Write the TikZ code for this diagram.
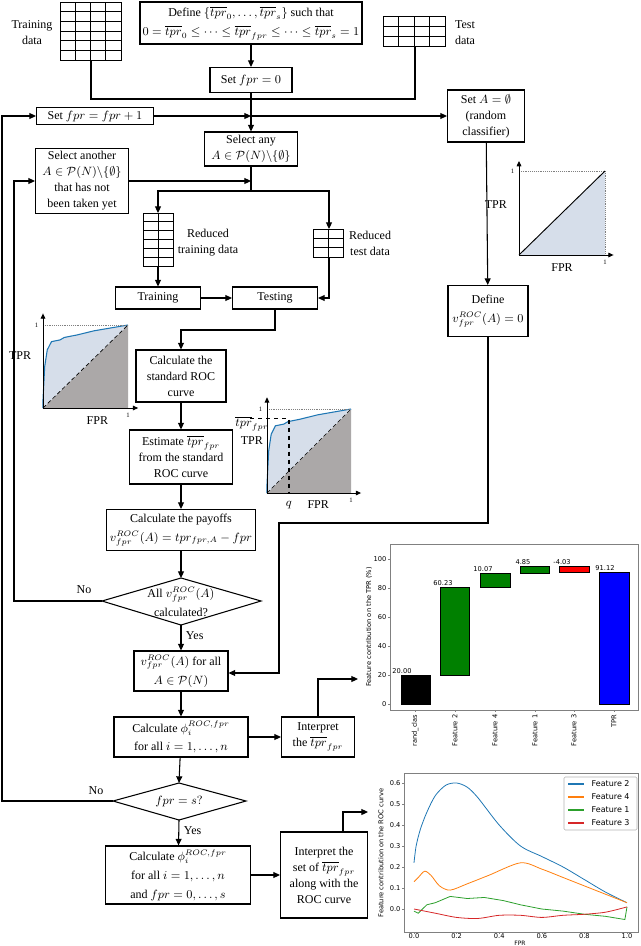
\documentclass[tikz,border=0pt]{standalone}
\usepackage{fontspec}
\setmainfont{Liberation Serif}
\newfontfamily\chartfont{DejaVu Sans}
\usepackage{amsmath,amssymb}
\usetikzlibrary{arrows.meta}
\definecolor{rocblue}{HTML}{D6DEEA}
\definecolor{rocgray}{HTML}{ABA8A8}
\definecolor{cblue}{HTML}{1F77B4}
\definecolor{corange}{HTML}{FF7F0E}
\definecolor{cgreen}{HTML}{2CA02C}
\definecolor{cred}{HTML}{D62728}
\begin{document}
\begin{tikzpicture}[x=0.75pt,y=-0.75pt,
  every node/.style={font=\fontsize{9}{12}\selectfont},
  box/.style={draw,line width=0.8pt,align=center,inner sep=1pt},
  tall/.style={font=\fontsize{9}{14}\selectfont},
  con/.style={line width=0.8pt},
  arr/.style={line width=0.8pt,-{Triangle[length=5pt,width=4.5pt]}},
  ax/.style={line width=0.7pt,-{Triangle[length=4pt,width=3.5pt]}},
  tiny/.style={font=\fontsize{5}{6}\selectfont\chartfont},
  grd/.style={line width=0.7pt}]
\useasboundingbox (0,0) rectangle (640,946);

% ---------- data grids ----------
\draw[grd] (60,2) rectangle (121,60);
\foreach \i in {1,2,3} \draw[grd] (60+15.25*\i,2) -- (60+15.25*\i,60);
\foreach \i in {1,...,5} \draw[grd] (60,2+9.667*\i) -- (121,2+9.667*\i);
\node[align=center] (trl) at (32,33) {Training\\data};
\coordinate (trd) at (91,60);

\draw[grd] (383,16) rectangle (445,46);
\foreach \i in {1,2,3} \draw[grd] (383+15.5*\i,16) -- (383+15.5*\i,46);
\foreach \i in {1,2} \draw[grd] (383,16+10*\i) -- (445,16+10*\i);
\node[align=center] (tel) at (465,33) {Test\\data};
\coordinate (ted) at (415,46);

\draw[grd] (143,213) rectangle (173,266);
\draw[grd] (158,213) -- (158,266);
\foreach \i in {1,...,5} \draw[grd] (143,213+8.83*\i) -- (173,213+8.83*\i);
\node[align=center] (rtrl) at (208,243) {Reduced\\training data};
\coordinate (rtrt) at (158,213);
\coordinate (rtrb) at (158,266);

\draw[grd] (313,229) rectangle (343,257);
\draw[grd] (328,229) -- (328,257);
\foreach \i in {1,2} \draw[grd] (313,229+9.33*\i) -- (343,229+9.33*\i);
\node[align=center] (rtel) at (370,243) {Reduced\\test data};
\coordinate (rtet) at (329,229);
\coordinate (rteb) at (329,257);

% ---------- boxes ----------
\node[box,tall,minimum width=166.5pt,minimum height=31.5pt] (def) at (251,23)
 {Define $\{\overline{tpr}_0,\dots,\overline{tpr}_s\}$ such that\\
  $0=\overline{tpr}_0\le\cdots\le\overline{tpr}_{fpr}\le\cdots\le\overline{tpr}_s=1$};
\node[box,minimum width=61.5pt,minimum height=18.75pt] (set0) at (251,80) {Set $fpr=0$};
\node[box,minimum width=87.75pt,minimum height=12.75pt] (setp) at (95,116) {Set $fpr=fpr+1$};
\node[box,minimum width=57.75pt,minimum height=39pt] (setA) at (486,116) {Set $A=\emptyset$\\(random\\classifier)};
\node[box,minimum width=69.75pt,minimum height=25.5pt] (sel) at (251,149) {Select any\\$A\in\mathcal{P}(N)\backslash\{\emptyset\}$};
\node[box,minimum width=69.75pt,minimum height=48.75pt] (selo) at (82,181) {Select another\\$A\in\mathcal{P}(N)\backslash\{\emptyset\}$\\that has not\\been taken yet};
\node[box,minimum width=63.75pt,minimum height=16.5pt] (train) at (158,298) {Training};
\node[box,minimum width=63.75pt,minimum height=16.5pt] (test) at (275,298) {Testing};
\node[box,minimum width=67.5pt,minimum height=39pt] (roc) at (181,376) {Calculate the\\standard ROC\\curve};
\node[box,minimum width=77.25pt,minimum height=40.5pt] (est) at (181,457) {Estimate $\overline{tpr}_{fpr}$\\from the standard\\ROC curve};
\node[box,tall,minimum width=111.75pt,minimum height=30.75pt] (pay) at (181,530) {Calculate the payoffs\\$v^{ROC}_{fpr}(A)=tpr_{fpr,A}-fpr$};
\node[box,tall,minimum width=60pt,minimum height=38.25pt] (defv) at (488,311) {Define\\$v^{ROC}_{fpr}(A)=0$};
\node[box,tall,minimum width=70.5pt,minimum height=30pt] (vall) at (181,671) {$v^{ROC}_{fpr}(A)$ for all\\$A\in\mathcal{P}(N)$};
\node[box,tall,minimum width=100.5pt,minimum height=30pt] (phi) at (181,737) {Calculate $\phi_i^{ROC,fpr}$\\for all $i=1,\dots,n$};
\node[box,minimum width=54.75pt,minimum height=30pt] (interp) at (318,737) {Interpret\\the $\overline{tpr}_{fpr}$};
\node[box,tall,minimum width=108.75pt,minimum height=43.5pt] (phif) at (178,875) {Calculate $\phi_i^{ROC,fpr}$\\for all $i=1,\dots,n$\\and $fpr=0,\dots,s$};
\node[box,minimum width=65.25pt,minimum height=64.5pt] (interps) at (324,875) {Interpret the\\set of $\overline{tpr}_{fpr}$\\along with the\\ROC curve};

% diamonds
\draw[con] (102,601) -- (181,578) -- (261,601) -- (181,625) -- cycle;
\node[align=center,tall] (d1) at (181,602) {All $v^{ROC}_{fpr}(A)$\\calculated?};
\coordinate (d1t) at (181,578); \coordinate (d1b) at (181,625); \coordinate (d1w) at (102,601);
\draw[con] (113,801) -- (179,783) -- (246,801) -- (179,820) -- cycle;
\node (d2) at (179,801) {$fpr=s?$};
\coordinate (d2t) at (179,783); \coordinate (d2b) at (179,820); \coordinate (d2w) at (113,801);

% ---------- connectors ----------
\coordinate (j99a) at (91,99); \coordinate (j99b) at (415,99);
\draw[con] (trd) -- (j99a) -- (j99b) -- (ted);
\draw[arr] (def) -- (set0);
\draw[arr] (set0) -- (sel);
\coordinate (jA) at (251,116);
\draw[arr] (setp) -- (jA);
\draw[arr] (jA) -- (setA);
\coordinate (jB) at (251,181);
\draw[arr] (selo) -- (jB);
\coordinate (s1) at (251,191); \coordinate (s2) at (158,191); \coordinate (s3) at (329,191);
\draw[con] (sel) -- (s1);
\draw[arr] (s1) -- (s2) -- (rtrt);
\draw[arr] (s1) -- (s3) -- (rtet);
\draw[arr] (rtrb) -- (train);
\coordinate (t1) at (329,298);
\draw[arr] (rteb) -- (t1) -- (test);
\draw[arr] (train) -- (test);
\coordinate (u1) at (275,330); \coordinate (u2) at (181,330);
\draw[arr] (test) -- (u1) -- (u2) -- (roc);
\draw[arr] (roc) -- (est);
\draw[arr] (est) -- (pay);
\draw[arr] (pay) -- (d1t);
\draw[arr] (d1b) -- node[right,pos=0.4]{Yes} (vall);
\coordinate (n1) at (14,601); \coordinate (n2) at (14,181);
\draw[arr] (d1w) -- (n1) -- (n2) -- (selo);
\node (no1) at (84,590) {No};
\draw[arr] (setA) -- (defv);
\coordinate (v1) at (488,523); \coordinate (v2) at (279,523); \coordinate (v3) at (279,673);
\draw[arr] (defv) -- (v1) -- (v2) -- (v3) -- (vall.east|-v3);
\draw[arr] (vall) -- (phi);
\draw[arr] (phi) -- (interp);
\coordinate (i1) at (318,679); \coordinate (i2) at (358,679);
\draw[arr] (interp) -- (i1) -- (i2);
\draw[arr] (phi) -- (d2t);
\draw[arr] (d2b) -- node[right,pos=0.4]{Yes} (phif);
\coordinate (m1) at (2,801); \coordinate (m2) at (2,116);
\draw[arr] (d2w) -- (m1) -- (m2) -- (setp);
\node (no2) at (96,791) {No};
\draw[arr] (phif) -- (interps);
\coordinate (k1) at (343,832); \coordinate (k2) at (343,812); \coordinate (k3) at (368,812);
\draw[arr] (k1) -- (k2) -- (k3);

% ---------- ROC plot 1 ----------
\begin{scope}[shift={(43,408)},x=63.75pt,y=62.25pt]
 \fill[rocgray] (0,0) -- (1,0) -- (1,1) -- cycle;
 \fill[rocblue] (0,0) -- (0,0.1) -- (0.02,0.5) -- (0.05,0.7) -- (0.1,0.8) -- (0.2,0.82) -- (0.25,0.85) -- (0.4,0.88) -- (0.6,0.93) -- (1,1) -- cycle;
 \draw[cblue,line width=0.8pt] (0,0) -- (0,0.1) -- (0.02,0.5) -- (0.05,0.7) -- (0.1,0.8) -- (0.2,0.82) -- (0.25,0.85) -- (0.4,0.88) -- (0.6,0.93) -- (1,1);
 \draw[densely dashed,line width=0.5pt] (0,0) -- (1,1);
 \draw[gray,densely dotted,line width=0.4pt] (0,1) -- (1,1);
 \draw[ax] (0,0) -- (1.12,0);
 \draw[ax] (0,0) -- (0,1.14);
 \node[font=\fontsize{5}{6}\selectfont,left] at (0,1) {1};
 \node[font=\fontsize{5}{6}\selectfont,below] at (1,0) {1};
 \node at (-0.27,0.63) {TPR};
 \node at (0.64,-0.15) {FPR};
\end{scope}

% ---------- ROC plot 2 ----------
\begin{scope}[shift={(267,493)},x=63pt,y=63pt]
 \fill[rocgray] (0,0) -- (1,0) -- (1,1) -- cycle;
 \fill[rocblue] (0,0) -- (0,0.1) -- (0.02,0.5) -- (0.05,0.7) -- (0.1,0.8) -- (0.2,0.82) -- (0.25,0.85) -- (0.4,0.88) -- (0.6,0.93) -- (1,1) -- cycle;
 \draw[cblue,line width=0.8pt] (0,0) -- (0,0.1) -- (0.02,0.5) -- (0.05,0.7) -- (0.1,0.8) -- (0.2,0.82) -- (0.25,0.85) -- (0.4,0.88) -- (0.6,0.93) -- (1,1);
 \draw[densely dashed,line width=0.5pt] (0,0) -- (1,1);
 \draw[gray,densely dotted,line width=0.4pt] (0,1) -- (1,1);
 \draw[dashed,line width=1pt] (-0.2,0.89) -- (0.26,0.89) -- (0.26,0);
 \draw[ax] (0,0) -- (1.12,0);
 \draw[ax] (0,0) -- (0,1.14);
 \node[font=\fontsize{5}{6}\selectfont,left] at (0,1) {1};
 \node[font=\fontsize{5}{6}\selectfont,below] at (1,0) {1};
 \node at (-0.18,0.82) {$\overline{tpr}_{fpr}$};
 \node at (-0.18,0.62) {TPR};
 \node at (0.26,-0.14) {$q$};
 \node at (0.61,-0.14) {FPR};
\end{scope}

% ---------- ROC plot random ----------
\begin{scope}[shift={(519,255)},x=64.5pt,y=63pt]
 \fill[rocblue] (0,0) -- (1,0) -- (1,1) -- cycle;
 \draw[gray,densely dotted,line width=0.4pt] (0,1) -- (1,1) -- (1,0);
 \draw[line width=0.7pt] (0,0) -- (1,1);
 \draw[ax] (0,0) -- (1.1,0);
 \draw[ax] (0,0) -- (0,1.12);
 \node[font=\fontsize{5}{6}\selectfont,left] at (0,1) {1};
 \node[font=\fontsize{5}{6}\selectfont,below] at (1,0) {1};
 \node at (-0.27,0.6) {TPR};
 \node at (0.5,-0.15) {FPR};
\end{scope}

% ---------- bar chart ----------
\draw[gray,line width=0.6pt] (390,544) rectangle (638,710);
\foreach \v in {0,20,40,60,80,100} {
  \draw[gray] (388,704-1.45*\v) -- (390,704-1.45*\v);
  \node[tiny,left,inner sep=1pt] at (388,704-1.45*\v) {\v};
}
\node[tiny,rotate=90] at (369,627) {Feature contribution on the TPR (\%)};
\draw[fill=black] (401,704-1.45*0) rectangle (430,704-1.45*20);
\draw[fill=green!50!black] (440,704-1.45*20) rectangle (469,704-1.45*80.23);
\draw[fill=green!50!black] (480,704-1.45*80.23) rectangle (510,704-1.45*90.3);
\draw[fill=green!50!black] (520,704-1.45*90.3) rectangle (549,704-1.45*95.15);
\draw[fill=red] (559,704-1.45*95.15) rectangle (589,704-1.45*91.12);
\draw[fill=blue] (599,704) rectangle (629,704-1.45*91.12);
\node[tiny,above,inner sep=1pt] at (402,704-1.45*20) {20.00};
\node[tiny,above,inner sep=1pt] at (443,704-1.45*80.23) {60.23};
\node[tiny,above,inner sep=1pt] at (483,704-1.45*90.3) {10.07};
\node[tiny,above,inner sep=1pt] at (523,704-1.45*95.15) {4.85};
\node[tiny,above,inner sep=1pt] at (562,704-1.45*95.15) {-4.03};
\node[tiny,above,inner sep=1pt] at (605,704-1.45*91.12) {91.12};
\foreach \x/\t in {415/rand\_clas,455/Feature 2,495/Feature 4,535/Feature 1,574/Feature 3,614/TPR} {
  \draw[gray] (\x,710) -- (\x,712);
  \node[tiny,rotate=90,anchor=east,inner sep=1pt] at (\x,713) {\t};
}

% ---------- line chart ----------
\draw[gray,line width=0.6pt] (404,773) rectangle (638,932);
\foreach \v in {0.0,0.2,0.4,0.6,0.8,1.0} {
  \draw[gray] (414+213*\v,932) -- (414+213*\v,934);
  \node[tiny,below,inner sep=0.5pt] at (414+213*\v,933) {\v};
}
\foreach \v in {0.0,0.1,0.2,0.3,0.4,0.5,0.6} {
  \draw[gray] (402,909-210*\v) -- (404,909-210*\v);
  \node[tiny,left,inner sep=1pt] at (402,909-210*\v) {\v};
}
\node[font=\fontsize{4.5}{5}\selectfont\chartfont,inner sep=0.5pt] at (520,943) {FPR};
\node[tiny,rotate=90] at (381,853) {Feature contribution on the ROC curve};
\begin{scope}[shift={(414,909)},x=159.75pt,y=157.5pt]
 \draw[cblue,line width=0.6pt] plot[smooth] coordinates {(0,.22) (0.01,.3) (0.03,.38) (0.06,.46) (0.1,.54) (0.15,.59) (0.2,.6) (0.25,.58) (0.3,.53) (0.4,.4) (0.5,.3) (0.6,.25) (0.7,.2) (0.8,.14) (0.9,.08) (1,.03)};
 \draw[corange,line width=0.6pt] plot[smooth] coordinates {(0,.13) (0.02,.15) (0.05,.18) (0.08,.16) (0.12,.11) (0.17,.09) (0.25,.12) (0.35,.16) (0.5,.22) (0.6,.19) (0.7,.15) (0.8,.11) (0.9,.07) (1,.03)};
 \draw[cgreen,line width=0.6pt] plot coordinates {(0,-.01) (0.02,-.02) (0.06,.02) (0.1,.03) (0.17,.06) (0.25,.05) (0.33,.055) (0.42,.04) (0.5,.02) (0.6,0) (0.7,-.01) (0.8,-.025) (0.9,-.035) (0.99,-.05) (1,0.01)};
 \draw[cred,line width=0.6pt] plot[smooth] coordinates {(0,0) (0.1,-.02) (0.2,-.04) (0.3,-.045) (0.4,-.03) (0.5,-.03) (0.6,-.04) (0.7,-.03) (0.8,-.025) (0.9,-.015) (1,.01)};
\end{scope}
\draw[gray!60,line width=0.4pt,rounded corners=1pt] (564,777) rectangle (637,830);
\foreach \c/\t [count=\k] in {cblue/Feature 2,corange/Feature 4,cgreen/Feature 1,cred/Feature 3} {
  \draw[\c,line width=0.8pt] (568,771+13*\k) -- (584,771+13*\k);
  \node[tiny,anchor=west,font=\fontsize{6}{7}\selectfont\chartfont] at (587,771+13*\k) {\t};
}
\end{tikzpicture}
\end{document}
